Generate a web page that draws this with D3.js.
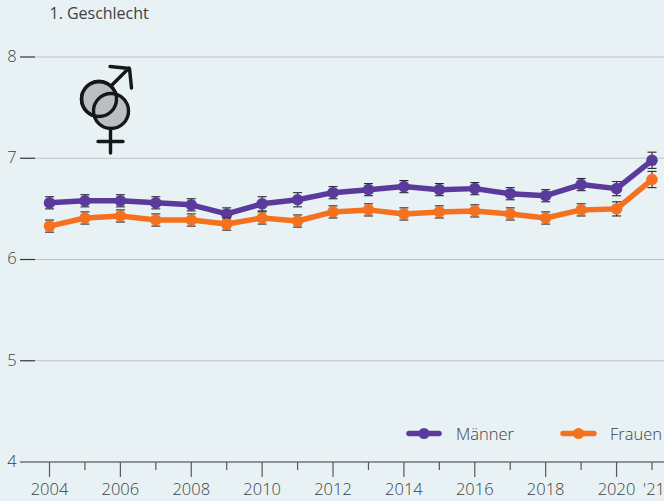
<!DOCTYPE html>
<html><head><meta charset="utf-8">
<script src="https://cdnjs.cloudflare.com/ajax/libs/d3/7.8.5/d3.min.js"></script>
<style>
html,body{margin:0;padding:0;background:#e8f1f3;overflow:hidden}
svg{display:block}
text{font-family:"Open Sans",sans-serif;font-weight:300;fill:#3c3f44}
</style></head><body>
<svg id="c" width="664" height="501"></svg>
<script>
const years=[2004,2005,2006,2007,2008,2009,2010,2011,2012,2013,2014,2015,2016,2017,2018,2019,2020,2021];
const maenner=[6.56,6.58,6.58,6.56,6.54,6.45,6.55,6.59,6.66,6.69,6.72,6.69,6.70,6.65,6.63,6.74,6.70,6.98];
const frauen=[6.33,6.41,6.43,6.39,6.39,6.35,6.41,6.38,6.47,6.49,6.45,6.47,6.48,6.45,6.41,6.49,6.50,6.79];
const maennerErr=[0.06,0.06,0.06,0.06,0.06,0.06,0.07,0.07,0.06,0.06,0.06,0.06,0.06,0.06,0.06,0.06,0.07,0.08];
const frauenErr=[0.06,0.06,0.06,0.06,0.06,0.06,0.06,0.06,0.06,0.06,0.06,0.06,0.06,0.06,0.06,0.06,0.07,0.08];
const yTicks=[4,5,6,7,8];
const xLabels=[[2004,"2004"],[2006,"2006"],[2008,"2008"],[2010,"2010"],[2012,"2012"],[2014,"2014"],[2016,"2016"],[2018,"2018"],[2020,"2020"],[2021,"'21"]];
const title="1. Geschlecht";
const seriesNames=["Männer","Frauen"];
const purple="#5a3b9c",orange="#f6711f",dark="#33363b";

const svg=d3.select("#c");
const x=d3.scaleLinear().domain([2004,2021]).range([49.5,652]);
const y=d3.scaleLinear().domain([4,8]).range([462,57]);

svg.append("g").selectAll("line").data(yTicks.filter(d=>d>4)).join("line")
 .attr("x1",35).attr("x2",664).attr("y1",d=>y(d)).attr("y2",d=>y(d))
 .attr("stroke","#bcc3c8").attr("stroke-width",1.2);
svg.append("g").selectAll("line").data(yTicks).join("line")
 .attr("x1",20).attr("x2",d=>d===4?664:35).attr("y1",d=>y(d)).attr("y2",d=>y(d))
 .attr("stroke",dark).attr("stroke-width",1.2);
svg.append("g").selectAll("text").data(yTicks).join("text")
 .attr("x",12).attr("y",d=>y(d)-1).attr("dy","0.36em").attr("text-anchor","middle")
 .style("font-size","16.5px").text(d=>d);

svg.append("g").selectAll("line").data(years).join("line")
 .attr("x1",d=>x(d)).attr("x2",d=>x(d)).attr("y1",y(4))
 .attr("y2",d=>y(4)+((d%2===0&&d<2021)?15:8))
 .attr("stroke","#55585c").attr("stroke-width",1.2);
svg.append("g").selectAll("text").data(xLabels).join("text")
 .attr("x",d=>x(d[0])+(d[0]===2021?2:0)).attr("y",495).attr("text-anchor","middle")
 .style("font-size","16.5px").text(d=>d[1]);

svg.append("text").attr("x",49.5).attr("y",19).style("font-size","16px").style("font-weight","400").style("letter-spacing","-0.02px").text(title);

const line=d3.line().x((d,i)=>x(years[i])).y(d=>y(d));
function draw(vals,errs,col){
 const g=svg.append("g");
 const eb=g.append("g").attr("stroke","#26282c").attr("stroke-width",1.1);
 vals.forEach((v,i)=>{
  const cx=x(years[i]);
  eb.append("line").attr("x1",cx).attr("x2",cx).attr("y1",y(v-errs[i])).attr("y2",y(v+errs[i]));
  [v-errs[i],v+errs[i]].forEach(e=>eb.append("line").attr("x1",cx-4.5).attr("x2",cx+4.5).attr("y1",y(e)).attr("y2",y(e)));
 });
 g.append("path").datum(vals).attr("d",line).attr("fill","none").attr("stroke",col).attr("stroke-width",5.5).attr("stroke-linejoin","round");
 g.selectAll("circle").data(vals).join("circle").attr("cx",(d,i)=>x(years[i])).attr("cy",d=>y(d)).attr("r",5.8).attr("fill",col);
}
draw(maenner,maennerErr,purple);
draw(frauen,frauenErr,orange);

[[seriesNames[0],purple,407,441,456],[seriesNames[1],orange,561,596,610]].forEach(([n,c,a,b,t])=>{
 svg.append("line").attr("x1",a+2).attr("x2",b-2).attr("y1",433.5).attr("y2",433.5).attr("stroke",c).attr("stroke-width",5.5).attr("stroke-linecap","round");
 svg.append("circle").attr("cx",(a+b)/2).attr("cy",433.5).attr("r",5.5).attr("fill",c);
 svg.append("text").attr("x",t).attr("y",439.5).style("font-size","16.5px").text(n);
});

const ic=svg.append("g").attr("fill","none").attr("stroke","#15171a").attr("stroke-width",3.4).attr("stroke-linecap","round").attr("stroke-linejoin","round");
ic.append("circle").attr("cx",99).attr("cy",99).attr("r",17.5).attr("fill","#bcbec3");
ic.append("circle").attr("cx",111).attr("cy",111).attr("r",17.5).attr("fill","#bcbec3");
ic.append("circle").attr("cx",99).attr("cy",99).attr("r",17.5);
ic.append("path").attr("d","M111 86L129 68M110 66.5L129.5 68.5L131.5 88");
ic.append("path").attr("d","M110.5 128.5V153M98 141.5H123");
</script>
</body></html>
